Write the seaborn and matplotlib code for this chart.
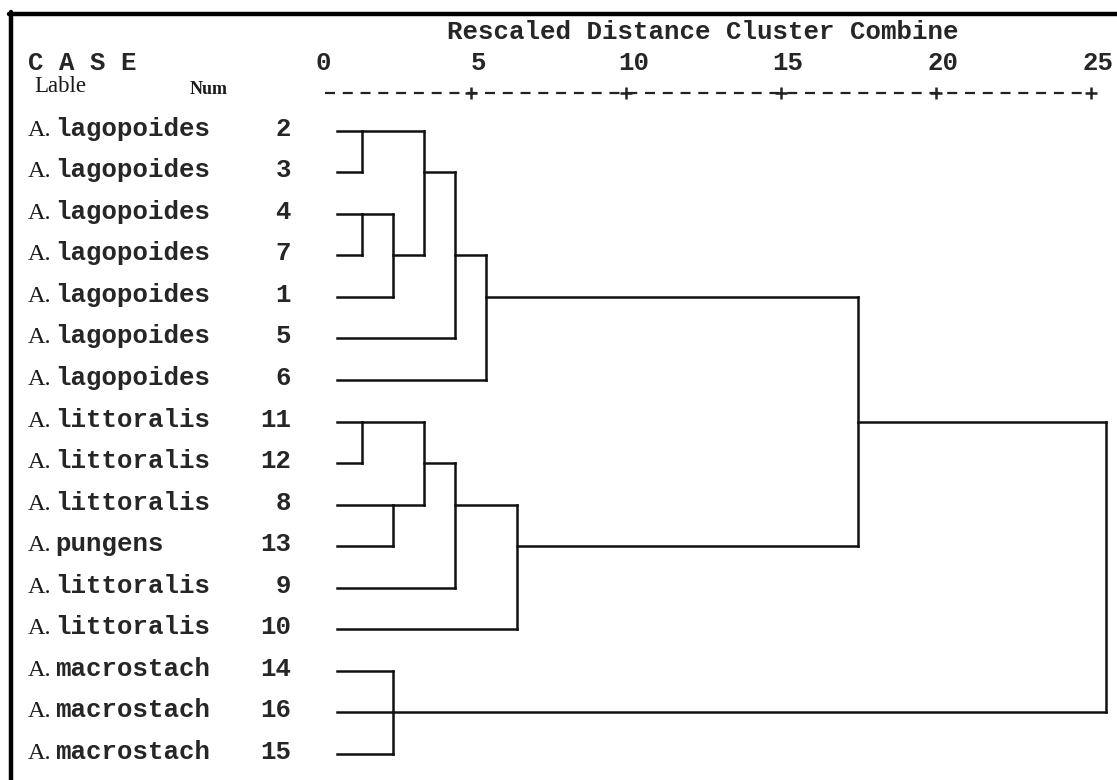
import numpy as np
import pandas as pd
import matplotlib
matplotlib.use("Agg")
import matplotlib.pyplot as plt
import matplotlib.transforms as mtransforms
from matplotlib.lines import Line2D
import seaborn as sns

# ---------------- data ----------------
genus = ["A."] * 16
species = ["lagopoides"] * 7 + ["littoralis", "littoralis", "littoralis", "pungens",
                                  "littoralis", "littoralis"] + ["macrostach"] * 3
case_nums = [2, 3, 4, 7, 1, 5, 6, 11, 12, 8, 13, 9, 10, 14, 16, 15]

# merges (agglomeration schedule); leaves are nodes 0..15 (rows),
# merge k creates node 16+k, drawn at row merge_rows[k]
merge_children = [[0, 1], [2, 3], [17, 4], [16, 18], [19, 5], [20, 6],
                  [7, 8], [9, 10], [22, 23], [24, 11], [25, 12],
                  [13, 14, 15], [21, 26], [28, 27]]
merge_heights = [1, 1, 2, 3, 4, 5, 1, 2, 3, 4, 6, 2, 17, 25]
merge_rows = [0, 2, 3, 1, 3, 4, 7, 9, 8, 9, 10, 14, 7, 7]

scale_ticks = [0, 5, 10, 15, 20, 25]
scale_title = "Rescaled Distance Cluster Combine"

# ---------------- layout constants ----------------
W, H = 1117, 780
X0_PX, UNIT_PX = 331.0, 31.0       # pixel of distance 0, pixels per unit
ROW0_PX, ROW_PX = 130.7, 41.55     # pixel of first row, pixels per row
LEAF_START = 0.2

def row_of(py):
    return (py - ROW0_PX) / ROW_PX

def fx(px):
    return px / W

# ---------------- build segments ----------------
nodes = {i: (i, LEAF_START) for i in range(len(case_nums))}
recs = []
seg = 0
for k, (ch, h, rep) in enumerate(zip(merge_children, merge_heights, merge_rows)):
    rows = []
    for c in ch:
        r, x = nodes[c]
        rows.append(r)
        recs += [(seg, x, r), (seg, h, r)]
        seg += 1
    recs += [(seg, h, min(rows)), (seg, h, max(rows))]
    seg += 1
    nodes[16 + k] = (rep, h)
segs = pd.DataFrame(recs, columns=["seg", "dist", "row"])

# ---------------- figure ----------------
sns.set_theme(style="white")
plt.rcParams["font.family"] = ["Liberation Mono", "DejaVu Sans"]
fig = plt.figure(figsize=(W / 100, H / 100), dpi=100)
fig.patch.set_facecolor("white")
ax = fig.add_axes([0, 0, 1, 1])
ax.set_facecolor("white")

sns.lineplot(data=segs, x="dist", y="row", units="seg", estimator=None, sort=False,
             color="#111111", linewidth=1.8, legend=False, ax=ax,
             solid_capstyle="projecting")

ax.set_xlim(-X0_PX / UNIT_PX, (W - X0_PX) / UNIT_PX)
ax.set_ylim(row_of(H), row_of(0))
ax.axis("off")

fig_y = mtransforms.blended_transform_factory(fig.transFigure, ax.transData)

mono = dict(family=["Liberation Mono", "DejaVu Sans"], weight="bold", color="#262626")
serif = dict(family=["Liberation Serif", "DejaVu Serif"], color="#1a1a1a")
MONO_SIZE = 18.5

# leaf labels (shared baseline a few pixels below the leaf line)
for i, (g, s, n) in enumerate(zip(genus, species, case_nums)):
    y = i + 5 / ROW_PX
    ax.text(fx(28), y, g, transform=fig_y, ha="left", va="baseline", fontsize=17.5, **serif)
    ax.text(fx(55), y, s, transform=fig_y, ha="left", va="baseline", fontsize=MONO_SIZE, **mono)
    ax.text(fx(291), y, str(n), transform=fig_y, ha="right", va="baseline", fontsize=MONO_SIZE, **mono)

# header
ax.text(fx(447), row_of(32), scale_title, transform=fig_y, ha="left", va="center",
        fontsize=MONO_SIZE, **mono)
ax.text(fx(28), row_of(63), "C A S E", transform=fig_y, ha="left", va="center",
        fontsize=MONO_SIZE, **mono)
ax.text(fx(34), row_of(87), "Lable", transform=fig_y, ha="left", va="center", fontsize=16.5, **serif)
ax.text(fx(190), row_of(90), "Num", transform=fig_y, ha="left", va="center", fontsize=13,
        family=["Liberation Serif"], weight="bold", color="#1a1a1a")
for t in scale_ticks:
    ax.text(t - 0.25, row_of(63), str(t), ha="center", va="center", fontsize=MONO_SIZE, **mono)

# dashed scale line with "+" marks (SPSS text axis, columns slightly left of values)
ax.plot([-0.2, scale_ticks[-1] - 0.55], [row_of(93)] * 2, color="#222222", lw=1.6,
        dashes=(4.5, 3.5))
ax.plot([t - 0.5 for t in scale_ticks[1:]], [row_of(93)] * (len(scale_ticks) - 1),
        ls="none", marker="+", ms=9, mew=1.8, color="#222222")

# frame lines (top and left)
fig.add_artist(Line2D([fx(9), 1], [1 - 14 / H] * 2, transform=fig.transFigure, color="black", lw=3.2))
fig.add_artist(Line2D([fx(11)] * 2, [0, 1 - 12 / H], transform=fig.transFigure, color="black", lw=3.2))

fig.savefig("out.png", dpi=100, facecolor="white")
